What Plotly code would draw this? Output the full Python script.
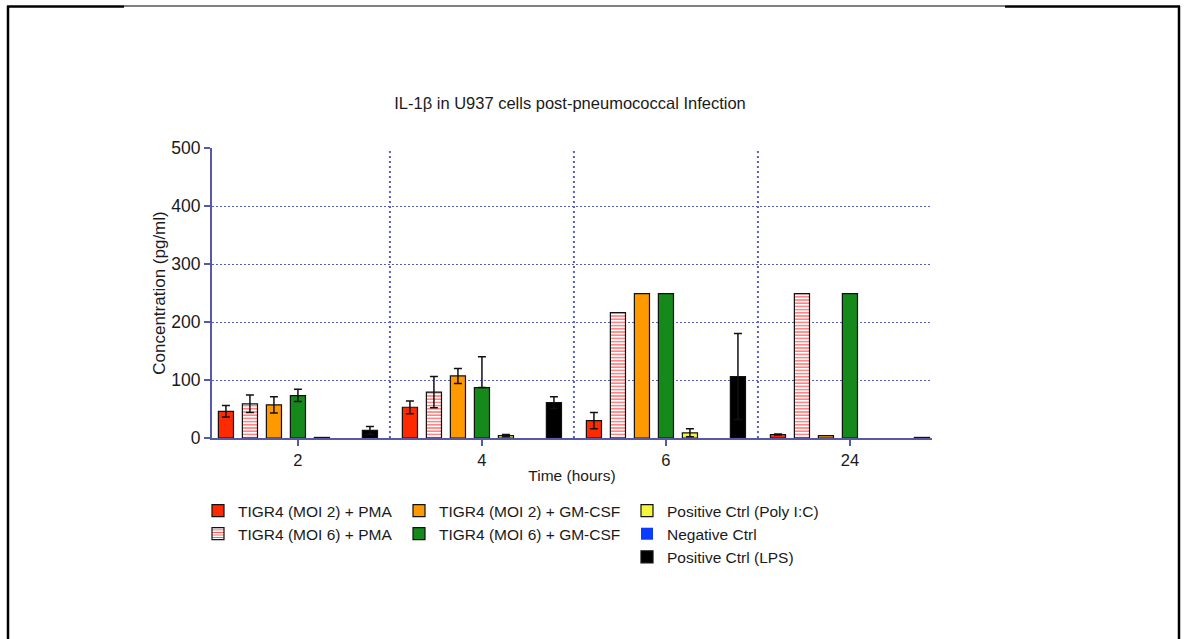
import numpy as np
import plotly.graph_objects as go

# Time points (hours)
times = ["2", "4", "6", "24"]

# Mean IL-1beta concentration (pg/ml) and SD per condition
moi2_pma = [46, 53, 30, 6]
moi2_pma_sd = [10, 11, 14, 1]
moi6_pma = [59, 79, 216, 249]
moi6_pma_sd = [15, 27, 0, 0]
moi2_gmcsf = [57, 107, 249, 4]
moi2_gmcsf_sd = [14, 13, 0, 0]
moi6_gmcsf = [73, 87, 249, 249]
moi6_gmcsf_sd_up = [11, 53, 0, 0]
moi6_gmcsf_sd_down = [10, 0, 0, 0]
polyic = [1, 4, 9, 0]
polyic_sd = [0, 2, 7, 0]
negative = [0, 0, 0, 0]
negative_sd = [0, 0, 0, 0]
lps = [13, 61, 106, 1]
lps_sd = [7, 10, 74, 0]

names = [
    "TIGR4 (MOI 2) + PMA",
    "TIGR4 (MOI 6) + PMA",
    "TIGR4 (MOI 2) + GM-CSF",
    "TIGR4 (MOI 6) + GM-CSF",
    "Positive Ctrl (Poly I:C)",
    "Negative Ctrl",
    "Positive Ctrl (LPS)",
]
colors = ["#ff2a00", "#ffffff", "#ff9900", "#15891a", "#f5f53c", "#0a3cff", "#000000"]

FONT = "Arial, Liberation Sans, sans-serif"
TEXT = "#1a1a1a"
AXIS_BLUE = "#5559a8"
GRID_BLUE = "#5a5fb4"

W, H = 1184, 639
L, R, T, B = 212, 252, 148, 201
PW, PH = W - L - R, H - T - B


def px_x(px):
    return (px - L) / PW


def px_y(py):
    return (H - B - py) / PH


def whisker(up, down, vals):
    # NaN hides the whisker and its cap where there is no spread or no bar
    keep = [(u > 0 and v > 0) for u, v in zip(up, vals)]
    hi = np.array([u if k else np.nan for u, k in zip(up, keep)], dtype=float)
    lo = np.array([d if k else np.nan for d, k in zip(down, keep)], dtype=float)
    return hi, lo


fig = go.Figure()

series = [
    (moi2_pma, moi2_pma_sd, moi2_pma_sd, "legend"),
    (moi6_pma, moi6_pma_sd, moi6_pma_sd, "legend"),
    (moi2_gmcsf, moi2_gmcsf_sd, moi2_gmcsf_sd, "legend2"),
    (moi6_gmcsf, moi6_gmcsf_sd_up, moi6_gmcsf_sd_down, "legend2"),
    (polyic, polyic_sd, polyic_sd, "legend3"),
    (negative, negative_sd, negative_sd, "legend3"),
    (lps, lps_sd, lps_sd, "legend3"),
]

for i, (vals, up, down, leg) in enumerate(series):
    # empty (zero) bars get no outline so they stay invisible
    outline = [1.2 if v > 0 else 0 for v in vals]
    marker = dict(color=colors[i], line=dict(color="#111111", width=outline))
    if i == 1:
        marker["pattern"] = dict(shape="-", fgcolor="#ff5050", bgcolor="#ffffff",
                                 size=3.2, solidity=0.35, fillmode="replace")
    hi, lo = whisker(up, down, vals)
    fig.add_trace(go.Bar(
        x=times, y=vals, name=names[i], marker=marker, legend=leg,
        error_y=dict(type="data", symmetric=False, array=hi, arrayminus=lo,
                     color="#111111", thickness=1.5, width=4),
    ))

# dotted dividers between time points
for k in range(len(times) - 1):
    fig.add_shape(type="line", xref="x", yref="y", x0=k + 0.5, x1=k + 0.5, y0=0, y1=500,
                  line=dict(color=GRID_BLUE, width=2, dash="2px,3px"), layer="below")

# outer frame lines
frame = dict(color="#000000")
fig.add_shape(type="line", xref="paper", yref="paper", x0=px_x(8), x1=px_x(8),
              y0=px_y(6), y1=px_y(645), line=dict(width=2.5, **frame))
fig.add_shape(type="line", xref="paper", yref="paper", x0=px_x(1179), x1=px_x(1179),
              y0=px_y(6), y1=px_y(645), line=dict(width=2.5, **frame))
fig.add_shape(type="line", xref="paper", yref="paper", x0=px_x(7), x1=px_x(124),
              y0=px_y(6.5), y1=px_y(6.5), line=dict(width=2.5, **frame))
fig.add_shape(type="line", xref="paper", yref="paper", x0=px_x(124), x1=px_x(1005),
              y0=px_y(6), y1=px_y(6), line=dict(width=1, **frame))
fig.add_shape(type="line", xref="paper", yref="paper", x0=px_x(1005), x1=px_x(1180),
              y0=px_y(6.5), y1=px_y(6.5), line=dict(width=2.5, **frame))

legend_common = dict(
    orientation="v", xanchor="left", yanchor="top", bgcolor="rgba(0,0,0,0)",
    font=dict(family=FONT, size=15.5, color=TEXT), tracegroupgap=0,
    itemwidth=30, traceorder="normal",
)

fig.update_layout(
    width=W, height=H,
    margin=dict(l=L, r=R, t=T, b=B, autoexpand=False),
    paper_bgcolor="#ffffff", plot_bgcolor="#ffffff",
    barmode="group", bargap=0.087, bargroupgap=0.37,
    font=dict(family=FONT, color=TEXT),
    title=dict(text="IL-1β in U937 cells post-pneumococcal Infection",
               x=570 / W, xanchor="center", y=1 - 103 / H, yanchor="middle",
               font=dict(family=FONT, size=16.5, color=TEXT)),
    xaxis=dict(type="category", range=[-0.467, 3.446],
               showline=True, linecolor=AXIS_BLUE, linewidth=2,
               ticks="outside", ticklen=6, tickwidth=2, tickcolor=AXIS_BLUE,
               showgrid=False, zeroline=False,
               tickfont=dict(family=FONT, size=16.5, color=TEXT),
               title=dict(text="Time (hours)", standoff=2,
                          font=dict(family=FONT, size=15.5, color=TEXT))),
    yaxis=dict(range=[0, 500], tickvals=[0, 100, 200, 300, 400, 500],
               showline=True, linecolor=AXIS_BLUE, linewidth=2,
               ticks="outside", ticklen=6, tickwidth=2, tickcolor=AXIS_BLUE,
               showgrid=True, gridcolor=GRID_BLUE, gridwidth=1.3, griddash="1.5px,2.5px",
               zeroline=False,
               tickfont=dict(family=FONT, size=17.5, color=TEXT),
               title=dict(text="Concentration (pg/ml)", standoff=1,
                          font=dict(family=FONT, size=17, color=TEXT))),
    legend=dict(x=px_x(198), y=px_y(494), **legend_common),
    legend2=dict(x=px_x(399), y=px_y(494), **legend_common),
    legend3=dict(x=px_x(627), y=px_y(494), **legend_common),
)

fig.write_html("out.html")
